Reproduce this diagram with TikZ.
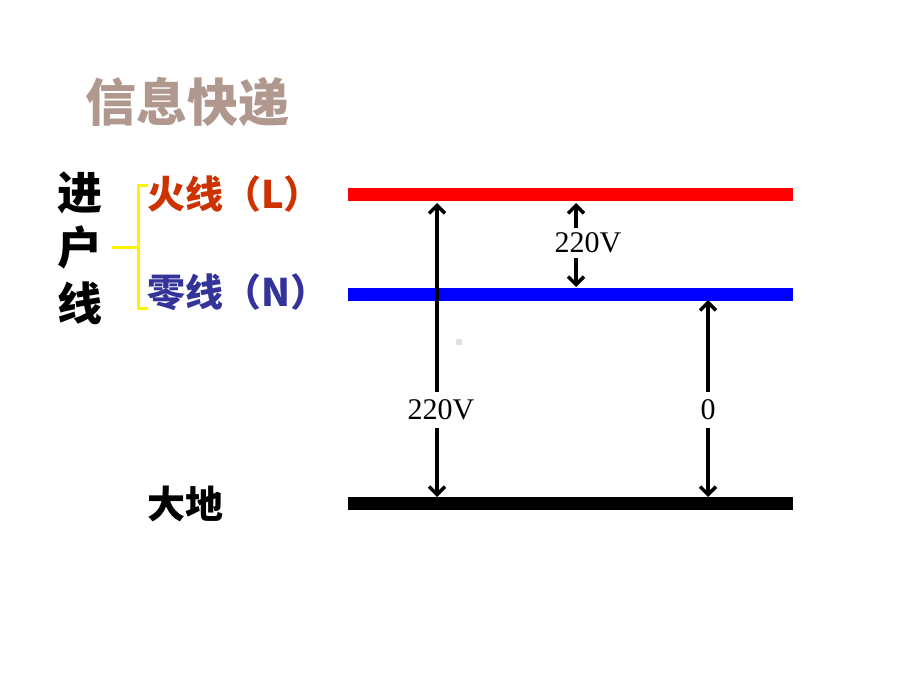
\documentclass[tikz,border=0pt]{standalone}
\usepackage{fontspec}
\setmainfont{Liberation Serif}
\newfontfamily\cjk{Noto Sans CJK SC}
\usetikzlibrary{arrows.meta}
\definecolor{hotc}{RGB}{204,51,0}
\definecolor{neuc}{RGB}{51,51,153}
\definecolor{titc}{RGB}{176,152,142}
\tikzset{
  wire/.style={line width=13pt},
  barb/.tip={Straight Barb[length=8pt,width=16pt,line width=3.4pt]},
  varrow/.style={line width=3.4pt,barb-barb},
  vlabel/.style={fill=white,inner xsep=2pt,inner ysep=8pt,font=\fontsize{30}{32}\selectfont},
  bigcjk/.style={font=\cjk\bfseries\fontsize{45}{45}\selectfont,inner sep=0pt},
  midcjk/.style={font=\cjk\bfseries\fontsize{38}{38}\selectfont,inner sep=0pt,anchor=west},
  brace/.style={draw=yellow,line width=3pt},
}
\begin{document}
\begin{tikzpicture}[x=1pt,y=-1pt]
\useasboundingbox (0,0) rectangle (920,690);
% title
\node[font=\cjk\bfseries\fontsize{51}{51}\selectfont,inner sep=0pt,text=titc] (title) at (187,102) {信息快递};
% wires
\coordinate (Ls) at (348,194); \coordinate (Le) at (793,194);
\coordinate (Ns) at (348,294); \coordinate (Ne) at (793,294);
\coordinate (Gs) at (348,503); \coordinate (Ge) at (793,503);
\draw[wire,red] (Ls) -- (Le);
\draw[wire,blue] (Ns) -- (Ne);
\draw[wire,black] (Gs) -- (Ge);
% labels left
\node[bigcjk] (c1) at (80,193) {进};
\node[bigcjk] (c2) at (80,247) {户};
\node[bigcjk] (c3) at (80,303) {线};
\node[midcjk,text=hotc] (hot) at (147,194) {火线（L）};
\node[midcjk,text=neuc] (neu) at (147,292) {零线（N）};
\node[midcjk,text=black] (gnd) at (147,504) {大地};
% yellow bracket
\coordinate (bt) at (148,185); \coordinate (bb) at (148,308);
\coordinate (bm) at (112,247);
\draw[brace] (bt) -- (138,185) -- (138,308) -- (bb);
\draw[brace] (bm) -- (138,247);
% arrows
\coordinate (a1t) at (437,203); \coordinate (a1b) at (437,497);
\coordinate (a2t) at (576,203); \coordinate (a2b) at (576,287);
\coordinate (a3t) at (708,300); \coordinate (a3b) at (708,497);
\draw[varrow] (a1t) -- (a1b);
\draw[varrow] (a2t) -- (a2b);
\draw[varrow] (a3t) -- (a3b);
\node[vlabel] (v1) at (441,410) {220V};
\node[vlabel,inner ysep=5pt] (v2) at (588,243) {220V};
\node[vlabel] (v3) at (708,410) {0};
% small grey mark
\fill[black!12] (456,339) rectangle (462,345);
\end{tikzpicture}
\end{document}
